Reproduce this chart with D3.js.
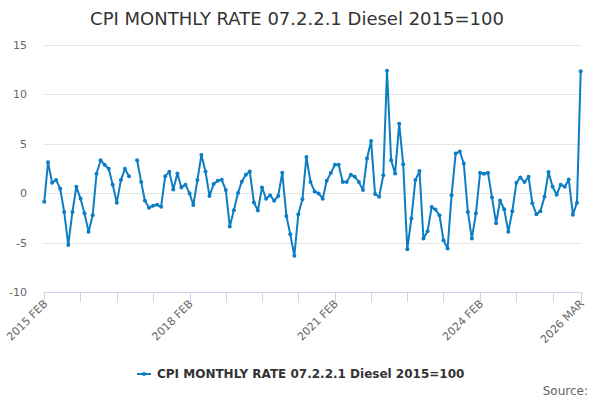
<!DOCTYPE html>
<html lang="en">
<head>
    <meta charset="UTF-8">
    <title>CPI MONTHLY RATE 07.2.2.1 Diesel 2015=100</title>
    <script src="https://cdnjs.cloudflare.com/ajax/libs/d3/7.8.5/d3.min.js"></script>
    <style>
        body {
            margin: 0;
            font-family: "DejaVu Sans", sans-serif;
            background: #fff;
        }
        .grid line {
            stroke: #e6e6e6;
        }
        .axis-label {
            font-size: 11px;
            fill: #666;
        }
    </style>
</head>
<body>
    <div id="chart"></div>

    <script>
        const title = "CPI MONTHLY RATE 07.2.2.1 Diesel 2015=100";
        const seriesName = "CPI MONTHLY RATE 07.2.2.1 Diesel 2015=100";

        // monthly, 2015 FEB .. 2026 MAR
        const startMonth = new Date(2015, 1, 1);
        const endMonth = new Date(2026, 2, 1);

        const values = [
            -0.84, 3.15, 1.08, 1.34, 0.47, -1.88, -5.23, -1.88, 0.67, -0.53,
            -2.01, -3.89, -2.21, 1.98, 3.35, 2.89, 2.49, 0.88, -0.94, 1.34,
            2.49, 1.74, null, 3.35, 1.14, -0.74, -1.45, -1.25, -1.15, -1.35,
            1.74, 2.18, 0.40, 2.01, 0.60, 0.88, 0.00, -1.18, 1.34, 3.89,
            2.21, -0.27, 0.94, 1.28, 1.38, 0.33, -3.35, -1.70, 0.03, 1.18,
            1.88, 2.21, -0.91, -1.74, 0.60, -0.54, -0.20, -0.74, -0.27, 2.08,
            -2.28, -4.12, -6.30, -2.11, -0.60, 3.69, 1.14, 0.20, 0.00, -0.54,
            1.28, 2.05, 2.89, 2.89, 1.14, 1.14, 1.88, 1.68, 1.14, 0.33,
            3.52, 5.30, -0.07, -0.34, 1.84, 12.40, 3.35, 2.01, 7.05, 2.95,
            -5.64, -2.53, 1.34, 2.25, -4.56, -3.82, -1.38, -1.64, -2.21, -4.73,
            -5.57, -0.20, 4.03, 4.23, 3.02, -1.88, -4.56, -2.01, 2.08, 1.98,
            2.08, -0.42, -3.02, -0.72, -1.61, -3.89, -1.81, 1.08, 1.61, 1.14,
            1.68, -1.01, -2.11, -1.81, -0.34, 2.15, 0.67, -0.13, 0.88, 0.67,
            1.41, -2.15, -0.94, 12.35
        ];

        const yTicks = [-10, -5, 0, 5, 10, 15];
        const labelledTicks = ["2015 FEB", "2018 FEB", "2021 FEB", "2024 FEB", "2026 MAR"];

        const months = d3.timeMonth.range(startMonth, d3.timeMonth.offset(endMonth, 1));
        const data = months.map((m, i) => ({ date: m, value: values[i] }));

        const W = 600, H = 400;
        const plot = { left: 44.3, right: 580.7, top: 45, bottom: 292.3 };

        const svg = d3.select("#chart")
            .append("svg")
            .attr("width", W)
            .attr("height", H);

        const x = d3.scaleTime()
            .domain([startMonth, endMonth])
            .range([plot.left, plot.right]);

        const y = d3.scaleLinear()
            .domain([-10, 15])
            .range([plot.bottom, plot.top]);

        const fmt = d => d3.timeFormat("%Y")(d) + " " + d3.timeFormat("%b")(d).toUpperCase();

        // title
        svg.append("text")
            .attr("x", 297)
            .attr("y", 25)
            .attr("text-anchor", "middle")
            .style("font-size", "18px")
            .style("fill", "#333")
            .text(title);

        // horizontal grid
        svg.append("g")
            .attr("class", "grid")
            .selectAll("line")
            .data(yTicks)
            .enter()
            .append("line")
            .attr("x1", plot.left - 1)
            .attr("x2", plot.right + 1)
            .attr("y1", d => Math.round(y(d)) + 0.5)
            .attr("y2", d => Math.round(y(d)) + 0.5);

        // y labels
        svg.append("g")
            .selectAll("text")
            .data(yTicks)
            .enter()
            .append("text")
            .attr("class", "axis-label")
            .attr("x", 27)
            .attr("y", d => y(d) + 4)
            .attr("text-anchor", "end")
            .text(d => d);

        // x axis: tick every 9 months plus the last month
        const xTicks = d3.timeMonth.every(1).range(startMonth, d3.timeMonth.offset(endMonth, 1))
            .filter((d, i) => i % 9 === 0);
        xTicks.push(endMonth);

        const xAxis = svg.append("g");
        xAxis.append("line")
            .attr("x1", plot.left - 1)
            .attr("x2", plot.right + 1)
            .attr("y1", Math.round(plot.bottom) + 0.5)
            .attr("y2", Math.round(plot.bottom) + 0.5)
            .attr("stroke", "#ccd6eb");

        xAxis.selectAll(".tick")
            .data(xTicks)
            .enter()
            .append("line")
            .attr("x1", d => Math.round(x(d)) + 0.5)
            .attr("x2", d => Math.round(x(d)) + 0.5)
            .attr("y1", plot.bottom)
            .attr("y2", plot.bottom + 10)
            .attr("stroke", "#ccd6eb");

        xAxis.selectAll(".xlabel")
            .data(xTicks.filter(d => labelledTicks.includes(fmt(d))))
            .enter()
            .append("text")
            .attr("class", "axis-label")
            .attr("text-anchor", "end")
            .attr("transform", d => `translate(${x(d) + 4},${plot.bottom + 12}) rotate(-45)`)
            .text(d => fmt(d));

        // series
        const color = "#0d7dc4";
        const line = d3.line()
            .defined(d => d.value !== null)
            .x(d => x(d.date))
            .y(d => y(d.value));

        svg.append("path")
            .datum(data)
            .attr("fill", "none")
            .attr("stroke", color)
            .attr("stroke-width", 2)
            .attr("stroke-linejoin", "round")
            .attr("d", line);

        svg.append("g")
            .selectAll("circle")
            .data(data.filter(d => d.value !== null))
            .enter()
            .append("circle")
            .attr("cx", d => x(d.date))
            .attr("cy", d => y(d.value))
            .attr("r", 2)
            .attr("fill", color);

        // legend
        const legend = svg.append("g").attr("transform", "translate(137,374)");
        legend.append("line")
            .attr("x1", 0).attr("x2", 14)
            .attr("y1", 0).attr("y2", 0)
            .attr("stroke", color)
            .attr("stroke-width", 2);
        legend.append("circle")
            .attr("cx", 7).attr("cy", 0).attr("r", 2)
            .attr("fill", color);
        legend.append("text")
            .attr("x", 20)
            .attr("y", 4)
            .style("font-size", "12px")
            .style("font-weight", "bold")
            .style("fill", "#333")
            .text(seriesName);

        // credits
        svg.append("text")
            .attr("x", 588)
            .attr("y", 394.5)
            .attr("text-anchor", "end")
            .style("font-size", "12px")
            .style("fill", "#666")
            .text("Source:");
    </script>
</body>
</html>
